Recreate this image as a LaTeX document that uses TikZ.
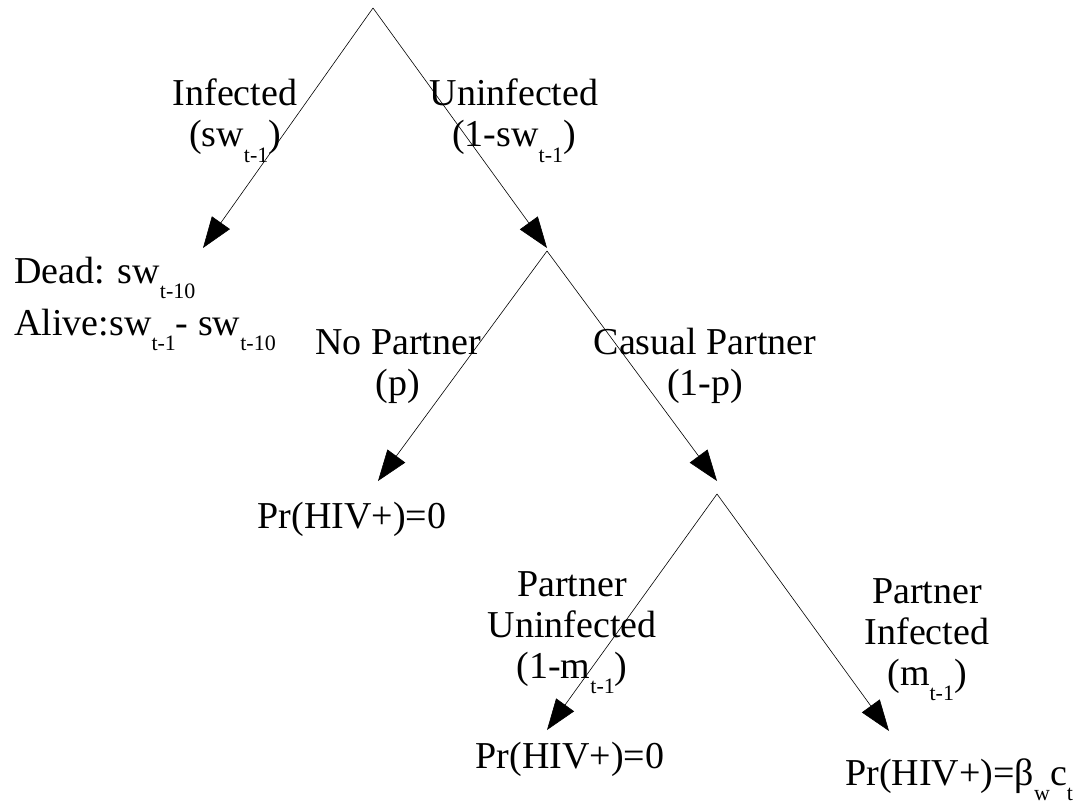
\documentclass[tikz,border=0pt]{standalone}
\usepackage{fontspec}
\setmainfont{Liberation Serif}
\usetikzlibrary{arrows.meta}
\newcommand{\lowsub}[1]{\raisebox{-0.42em}{\fontsize{22}{22}\selectfont #1}}

\begin{document}
\begin{tikzpicture}[x=1pt,y=-1pt,->,>={Triangle[length=31pt,width=22pt]},
                    line width=0.6pt,font=\fontsize{38}{41}\selectfont]
  \tikzstyle{lab}=[align=center, inner sep=0pt, anchor=base]
  \tikzstyle{leaf}=[inner sep=0pt, anchor=base west]
  \tikzstyle{leafc}=[inner sep=0pt, anchor=base]
  \useasboundingbox (0,0) rectangle (1075,805);

  % branch points and arrow ends
  \coordinate (R)  at (373,8);
  \coordinate (I)  at (203,248);
  \coordinate (U)  at (547,248);
  \coordinate (A)  at (547,251);
  \coordinate (NP) at (378,481);
  \coordinate (CP) at (717,481);
  \coordinate (B)  at (717,494);
  \coordinate (PU) at (547,730);
  \coordinate (PI) at (889,731);

  \path (R) edge (I)
            edge (U)
        (A) edge (NP)
            edge (CP)
        (B) edge (PU)
            edge (PI);

  % branch labels (base = last line)
  \node[lab] (infl)  at (235,147) {Infected\\(sw\lowsub{t-1})};
  \node[lab] (uninl) at (514,147) {Uninfected\\(1-sw\lowsub{t-1})};
  \node[lab] (nopl)  at (398,395) {No Partner\\(p)};
  \node[lab] (casl)  at (705,395) {Casual Partner\\(1-p)};
  \node[lab] (puninl) at (572,678) {Partner\\Uninfected\\(1-m\lowsub{t-1})};
  \node[lab] (pinfl)  at (927,685) {Partner\\Infected\\(m\lowsub{t-1})};

  % outcomes
  \node[leaf] (dead)  at (14,283) {Dead: sw\lowsub{t-10}};
  \node[leaf] (alive) at (14,335) {Alive:sw\lowsub{t-1}- sw\lowsub{t-10}};
  \node[leafc] (pr1) at (352,528) {Pr(HIV+)=0};
  \node[leafc] (pr2) at (570,768) {Pr(HIV+)=0};
  \node[leaf] (pr3) at (845,785) {Pr(HIV+)=β\lowsub{w}c\lowsub{t}};
\end{tikzpicture}
\end{document}
